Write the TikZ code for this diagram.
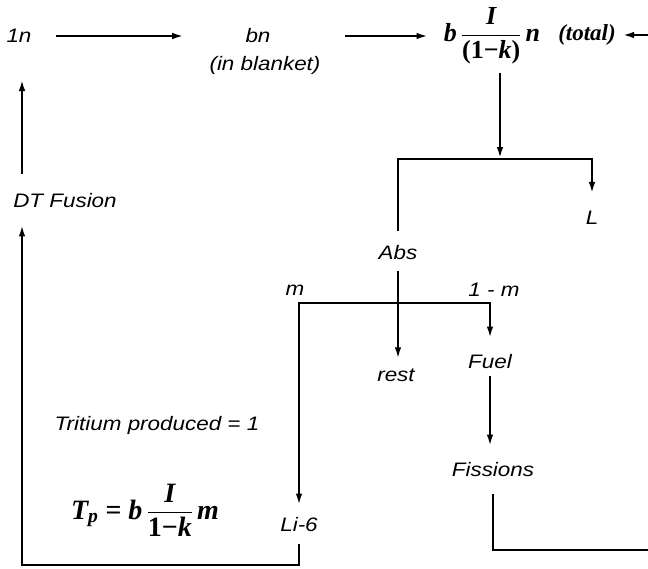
\documentclass[tikz,border=0pt]{standalone}
\usepackage{amsmath}
\usepackage{fontspec}
\setmainfont{Liberation Sans}[FakeStretch=1.15]
\newfontfamily\formfont{Liberation Serif}
\usetikzlibrary{arrows.meta,calc}
\newcommand\fv[1]{\text{\formfont\bfseries\itshape #1}}
\newcommand\fr[1]{\text{\formfont\bfseries\upshape #1}}
\tikzset{>={Latex[length=12pt,width=6.5pt]},
  every node/.style={font=\fontsize{19.5}{22}\selectfont\itshape,inner sep=2pt},
  flow/.style={->},
  formula/.style={font=\fontsize{26}{30}\selectfont},
  bigformula/.style={font=\fontsize{28}{32}\selectfont}}

\begin{document}
\begin{tikzpicture}[x=1pt,y=-1pt,line width=2.6pt]
\useasboundingbox (0,0) rectangle (648,568);
% top row
\node (one) at (19,36) {1n};
\node (bn) at (258,36) {bn};
\node (blanket) at (265,65) {(in blanket)};
\node[formula] (tot) at (492,36) {$\displaystyle\fv{b}\,\frac{\fv{I}}{\fr{(1}\fr{−}\fv{k}\fr{)}}\,\fv{n}$};
\node[font=\fontsize{23}{26}\selectfont] (total) at (587,35) {\formfont\bfseries\itshape (total)};
\coordinate (rt) at (648,35);
% splitting of the neutrons
\node (L) at (592,218) {L};
\node (abs) at (398,253) {Abs};
\node (rest) at (396,375) {rest};
\node (m) at (295,290) {m};
\node (onem) at (494,290) {1 - m};
\node (fuel) at (490,362) {Fuel};
\node (fis) at (493,470) {Fissions};
\node (li) at (299,525) {Li-6};
\node (dt) at (65,201) {DT Fusion};
\node (trit) at (157,425) {Tritium produced = 1};
\node[bigformula] (tp) at (145,510) {$\displaystyle\fv{T}_{\fv{p}}\fr{ = }\fv{b}\,\frac{\fv{I}}{\fr{1}\fr{−}\fv{k}}\,\fv{m}$};
\coordinate (j1) at (500,159);
\coordinate (j2) at (398,303);
\coordinate (rb) at (648,550);
\coordinate (bl) at (22,565);
% connectors
\draw[flow,shorten <=21pt,shorten >=58pt] (one) -- (bn);
\draw[flow,shorten <=71pt,shorten >=12pt] (bn) -- (tot);
\draw[flow,shorten >=3pt] (rt) -- (total);
\draw[flow,shorten <=5pt] (j1 |- tot.south) -- (j1);
\draw[flow,shorten >=14pt] (j1) -| (L);
\draw[shorten <=12pt] (abs) |- (j1);
\draw[flow,shorten <=8pt,shorten >=6pt] (abs) -- (abs |- rest.north);
\draw[flow,shorten >=9pt] (j2) -| (li);
\draw[flow,shorten >=13pt] (j2) -| (fuel);
\draw[flow,shorten <=4pt,shorten >=13pt] (fuel) -- (fuel |- fis.north);
\draw[shorten <=14pt] (fis) |- (rb);
\draw[flow,shorten <=9pt,shorten >=13pt] (li) |- (bl) -- (bl |- dt.south);
\draw[flow,shorten <=17pt,shorten >=33pt] (bl |- dt.north) -- (bl |- one.south);
\end{tikzpicture}
\end{document}
